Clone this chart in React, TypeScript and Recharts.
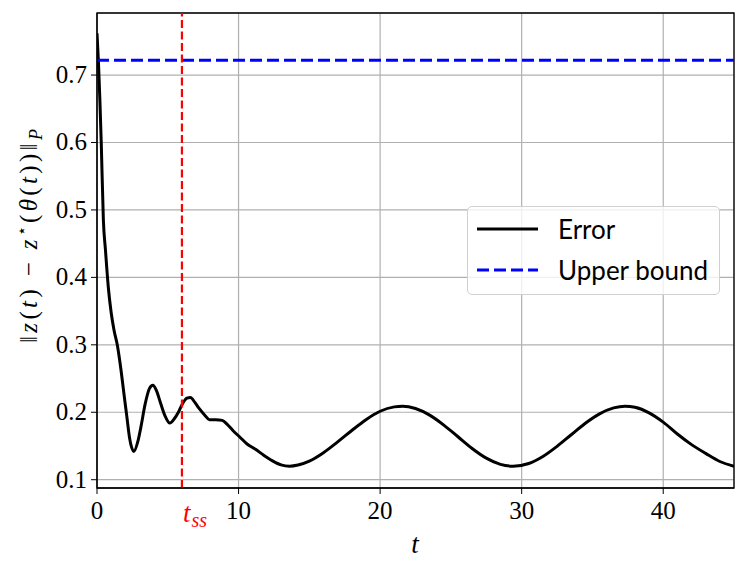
import { LineChart, Line, XAxis, YAxis, CartesianGrid, ReferenceLine, ReferenceArea, Label } from 'recharts';

// time samples and error values
const tValues = [
  0, 0.1, 0.2, 0.3, 0.45, 0.6, 0.8, 1.0, 1.2, 1.45, 1.7, 1.9, 2.1, 2.3, 2.6, 2.9, 3.1, 3.4, 3.7, 3.95,
  4.2, 4.5, 4.8, 5.15, 5.45, 5.75, 6.05, 6.35, 6.6, 6.9, 7.2, 7.6, 7.95, 8.4, 8.85, 9.2, 9.6, 10.1, 10.6,
  11.2, 11.8, 12.4, 13.0, 13.6, 14.2, 15, 16, 17, 18, 19, 20, 21, 21.6, 22.5, 23.5, 24.5, 25.5, 26.5,
  27.5, 28.5, 29.4, 30.5, 31.5, 32.5, 33.5, 34.5, 35.5, 36.5, 37.3, 38, 39, 40, 41, 42, 43, 44, 45,
];
const errValues = [
  0.762, 0.72, 0.665, 0.6, 0.485, 0.44, 0.385, 0.348, 0.322, 0.298, 0.262, 0.228, 0.195, 0.162, 0.142,
  0.158, 0.178, 0.212, 0.235, 0.24, 0.232, 0.213, 0.195, 0.184, 0.19, 0.2, 0.213, 0.221, 0.222, 0.215,
  0.206, 0.196, 0.189, 0.189, 0.188, 0.182, 0.173, 0.163, 0.153, 0.145, 0.136, 0.128, 0.122, 0.12,
  0.1217, 0.1275, 0.14, 0.156, 0.173, 0.189, 0.2015, 0.208, 0.209, 0.2055, 0.1957, 0.181, 0.1637,
  0.1463, 0.132, 0.1228, 0.12, 0.124, 0.1344, 0.1494, 0.1667, 0.1838, 0.1977, 0.2065, 0.209, 0.2074,
  0.1992, 0.1854, 0.1677, 0.152, 0.139, 0.127, 0.12,
];
const upperBound = 0.722;
const tSteady = 6;

const xTicks = [0, 10, 20, 30, 40];
const yTicks = [0.1, 0.2, 0.3, 0.4, 0.5, 0.6, 0.7];
const xDomain = [0, 45];
const yDomain = [0.0877, 0.792];

const legendItems = [
  { name: 'Error', color: '#000000', dash: undefined },
  { name: 'Upper bound', color: '#0000ff', dash: '12 5' },
];

const data = tValues.map((t, i) => ({ t, err: errValues[i] }));

const serif = 'Liberation Serif';
const sans = 'Lato';

const XTick = (props: any) => (
  <text x={props.x} y={props.y + 23} textAnchor="middle" style={{ fontFamily: serif, fontSize: 25 }} fill="#000">
    {props.payload.value}
  </text>
);

const YTick = (props: any) => (
  <text x={props.x - 2} y={props.y + 8} textAnchor="end" style={{ fontFamily: serif, fontSize: 25 }} fill="#000">
    {Number(props.payload.value).toFixed(1)}
  </text>
);

function LegendBox() {
  return (
    <div
      style={{
        position: 'absolute',
        left: 467,
        top: 206,
        width: 253,
        height: 89,
        boxSizing: 'border-box',
        border: '1.3px solid #d0d0d0',
        borderRadius: 5,
        background: 'rgba(255,255,255,0.8)',
        paddingTop: 1,
      }}
    >
      {legendItems.map((it) => (
        <div key={it.name} style={{ display: 'flex', alignItems: 'center', height: 41 }}>
          <svg width={90} height={10} style={{ marginLeft: 8 }}>
            <line x1={1} y1={5} x2={62} y2={5} stroke={it.color} strokeWidth={3} strokeDasharray={it.dash} />
          </svg>
          <span style={{ fontFamily: sans, fontSize: 26, color: '#000', marginLeft: -8 }}>{it.name}</span>
        </div>
      ))}
    </div>
  );
}

export default function App() {
  return (
    <div style={{ position: 'absolute', left: 0, top: 0, width: 748, height: 572, background: '#fff' }}>
      <LineChart width={748} height={572} data={data} margin={{ top: 13, right: 14, bottom: 44, left: 37 }}>
        <CartesianGrid stroke="#b0b0b0" strokeWidth={1.2} />
        <XAxis
          dataKey="t"
          type="number"
          domain={xDomain}
          ticks={xTicks}
          allowDataOverflow
          height={40}
          tickSize={6}
          stroke="#000"
          tick={<XTick />}
        >
          <Label
            content={() => (
              <text x={415} y={553} textAnchor="middle" style={{ fontFamily: serif, fontSize: 27, fontStyle: 'italic' }} fill="#000">
                t
              </text>
            )}
          />
        </XAxis>
        <YAxis
          type="number"
          domain={yDomain}
          ticks={yTicks}
          allowDataOverflow
          width={60}
          tickSize={6}
          stroke="#000"
          tick={<YTick />}
        >
          <Label
            content={() => (
              <text
                x={37}
                y={236}
                transform="rotate(-90, 37, 236)"
                textAnchor="middle"
                textLength={214}
                lengthAdjust="spacing"
                style={{ fontFamily: serif, fontSize: 25 }}
                fill="#000"
              >
                <tspan>‖</tspan>
                <tspan fontStyle="italic">z</tspan>
                <tspan>(</tspan>
                <tspan fontStyle="italic">t</tspan>
                <tspan>) − </tspan>
                <tspan fontStyle="italic">z</tspan>
                <tspan dy={-10} fontSize={16}>⋆</tspan>
                <tspan dy={10}>(</tspan>
                <tspan fontStyle="italic">θ</tspan>
                <tspan>(</tspan>
                <tspan fontStyle="italic">t</tspan>
                <tspan>))‖</tspan>
                <tspan dy={5} fontSize={18} fontStyle="italic">P</tspan>
              </text>
            )}
          />
        </YAxis>
        <ReferenceArea
          x1={xDomain[0]}
          x2={xDomain[1]}
          y1={yDomain[0]}
          y2={yDomain[1]}
          fill="none"
          fillOpacity={0}
          stroke="#000"
          strokeWidth={1.3}
        />
        <Line
          type="monotone"
          dataKey="err"
          stroke="#000"
          strokeWidth={3}
          dot={false}
          isAnimationActive={false}
        />
        <ReferenceLine y={upperBound} stroke="#0000ff" strokeWidth={3} strokeDasharray="12 5" />
        <ReferenceLine
          x={tSteady}
          stroke="#ff0000"
          strokeWidth={2.2}
          strokeDasharray="8 3.5"
          label={(props: any) => {
            const vb = props.viewBox || {};
            const x = vb.x ?? 181;
            const y = (vb.y ?? 13) + (vb.height ?? 475);
            return (
              <text x={x + 1} y={y + 34} style={{ fontFamily: serif, fontSize: 27 }} fill="#ff0000">
                <tspan fontStyle="italic">t</tspan>
                <tspan dx={1} dy={5} fontSize={20} fontStyle="italic">ss</tspan>
              </text>
            );
          }}
        />
      </LineChart>
      <LegendBox />
    </div>
  );
}
